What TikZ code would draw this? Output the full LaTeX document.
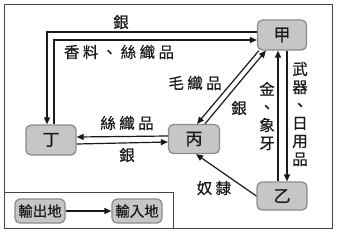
\documentclass[tikz,border=0pt]{standalone}
\usepackage{fontspec}
\usetikzlibrary{arrows.meta}
\newfontfamily\cjk[LetterSpace=22,FakeBold=0.6]{Noto Sans CJK TC}
\newfontfamily\cjkbox[FakeBold=0.6]{Noto Sans CJK TC}
\definecolor{nodefill}{HTML}{C6C6C6}
\definecolor{nodeline}{HTML}{8C8C8C}
\definecolor{ink}{HTML}{1A1A1A}
\definecolor{framec}{HTML}{444444}
\tikzset{
  place/.style={draw=nodeline, line width=1.3pt, fill=nodefill, rounded corners=5pt,
    inner sep=0pt, font=\cjkbox\fontsize{17}{17}\selectfont, text=ink},
  legendbox/.style={place, font=\cjkbox\fontsize{14.5}{14.5}\selectfont},
  flow/.style={draw=ink, line width=1.2pt, -{Triangle[length=7pt,width=6pt]}},
  lbl/.style={font=\cjk\fontsize{15.5}{15.5}\selectfont, text=ink, inner sep=0pt},
  vlbl/.style={font=\cjkbox\fontsize{15.5}{18}\selectfont, text=ink, inner sep=0pt, align=center},
}
\begin{document}
\begin{tikzpicture}[x=1pt,y=-1pt]
\useasboundingbox (0,0) rectangle (339,233);
% frame
\draw[framec, line width=0.9pt] (4.5,4) rectangle (332.5,228);
\draw[framec, line width=0.9pt] (4.5,192) -- (173,192) -- (173,228);
% nodes
\node[place, minimum width=49pt, minimum height=30pt] (jia) at (282,35) {甲};
\node[place, minimum width=51pt, minimum height=29pt] (bing) at (194,139) {丙};
\node[place, minimum width=50pt, minimum height=30pt] (ding) at (51,140) {丁};
\node[place, minimum width=50pt, minimum height=28pt] (yi) at (282,196) {乙};
\node[legendbox, minimum width=50pt, minimum height=24pt] (out) at (40,211) {輸出地};
\node[legendbox, minimum width=50pt, minimum height=24pt] (in) at (137,211) {輸入地};
% helper corners
\coordinate (c1) at (47,32);
\coordinate (c2) at (54,40);
% 甲 -> 丁 silver
\draw[flow] (jia.west |- c1) -- (c1) -- (c1 |- ding.north);
% 丁 -> 甲 spices, silk
\draw[flow] (c2 |- ding.north) -- (c2) -- (c2 -| jia.west);
% 丁 <-> 丙
\draw[flow] ([yshift=-4pt]ding.east) -- ([yshift=-3pt]bing.west);
\draw[flow] ([yshift=3pt]bing.west) -- ([yshift=3pt]ding.east);
% 甲 <-> 丙 diagonal
\draw[flow] ([xshift=2pt]jia.south west) -- ([xshift=3pt]bing.north);
\draw[flow] ([xshift=11pt]bing.north) -- ([xshift=9pt]jia.south west);
% 甲 <-> 乙
\draw[flow] ([xshift=-4pt]yi.north) -- ([xshift=-4pt]jia.south);
\draw[flow] ([xshift=5pt]jia.south) -- ([xshift=5pt]yi.north);
% 乙 -> 丙
\draw[flow] (yi.west) -- ([xshift=2pt]bing.south);
% legend
\draw[flow] (out.east) -- (in.west);
% labels
\node[lbl] (l1) at (121,22) {銀};
\node[lbl] (l2) at (119,52) {香料、絲織品};
\node[lbl] (l3) at (195,83) {毛織品};
\node[lbl] (l4) at (239,108) {銀};
\node[lbl] (l5) at (127,123) {絲織品};
\node[lbl] (l6) at (127,155) {銀};
\node[lbl] (l7) at (214,188) {奴隸};
\node[vlbl] (l8) at (267,116) {金\\、\\象\\牙};
\node[vlbl] (l9) at (300,114) {武\\器\\、\\日\\用\\品};
\end{tikzpicture}
\end{document}
